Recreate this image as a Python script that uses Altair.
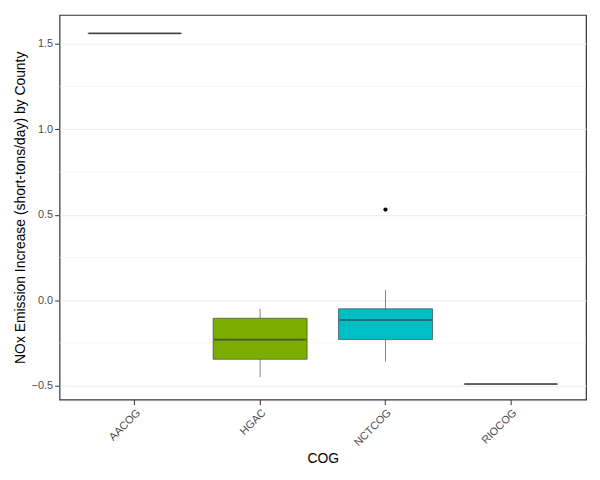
import altair as alt
import pandas as pd

cogs = ["AACOG", "HGAC", "NCTCOG", "RIOCOG"]
lower = [1.56, -0.45, -0.36, -0.49]
q1 = [1.56, -0.345, -0.23, -0.49]
median = [1.56, -0.23, -0.115, -0.49]
q3 = [1.56, -0.105, -0.05, -0.49]
upper = [1.56, -0.05, 0.06, -0.49]
fills = ["#F8766D", "#7CAE00", "#00BFC4", "#C77CFF"]

out_cog = ["NCTCOG"]
out_val = [0.53]

minor = [-0.25, 0.25, 0.75, 1.25]

df = pd.DataFrame({"COG": cogs, "lower": lower, "q1": q1, "median": median,
                   "q3": q3, "upper": upper})
df_out = pd.DataFrame({"COG": out_cog, "value": out_val})
df_minor = pd.DataFrame({"v": minor})

xs = alt.X("COG:N", title="COG",
           scale=alt.Scale(domain=cogs, paddingInner=0.25, paddingOuter=0.225),
           axis=alt.Axis(labelAngle=-45, labelColor="#4d4d4d", labelFontSize=11,
                         titleFontSize=14, titleFontWeight="normal",
                         titleColor="black", gridColor="#ebebeb",
                         tickColor="#333333", domain=False, labelAlign="right",
                         labelBaseline="top"))
ysc = alt.Scale(domain=[-0.581, 1.668], nice=False, zero=False)
yax = alt.Axis(values=[-0.5, 0, 0.5, 1.0, 1.5], format=".1f", labelColor="#4d4d4d",
               labelFontSize=11, titleFontSize=14, titleFontWeight="normal",
               titleColor="black", gridColor="#ebebeb", tickColor="#333333",
               domain=False)

minor_grid = alt.Chart(df_minor).mark_rule(color="#f2f2f2", strokeWidth=0.6).encode(
    y=alt.Y("v:Q", scale=ysc))

base = alt.Chart(df)
whisk = base.mark_rule(color="#333333", strokeWidth=0.6).encode(
    x=xs,
    y=alt.Y("lower:Q", scale=ysc, axis=yax,
            title="NOx Emission Increase (short-tons/day) by County"),
    y2="upper:Q")
box = base.mark_bar(stroke="#333333", strokeWidth=0.6).encode(
    x=xs, y=alt.Y("q1:Q", scale=ysc), y2="q3:Q",
    color=alt.Color("COG:N", scale=alt.Scale(domain=cogs, range=fills), legend=None))
med = base.mark_tick(color="#333333", size=93, thickness=1.6).encode(
    x=xs, y=alt.Y("median:Q", scale=ysc))
outl = alt.Chart(df_out).mark_circle(color="black", size=18, opacity=1).encode(
    x=xs, y=alt.Y("value:Q", scale=ysc))

chart = alt.layer(minor_grid, whisk, box, med, outl).properties(
    width=531, height=388
).configure_view(stroke="#333333", strokeWidth=1.2).configure_axis(
    labelFont="Arial", titleFont="Arial")

chart.save("out.html", embed_options={"renderer": "svg", "actions": False})
